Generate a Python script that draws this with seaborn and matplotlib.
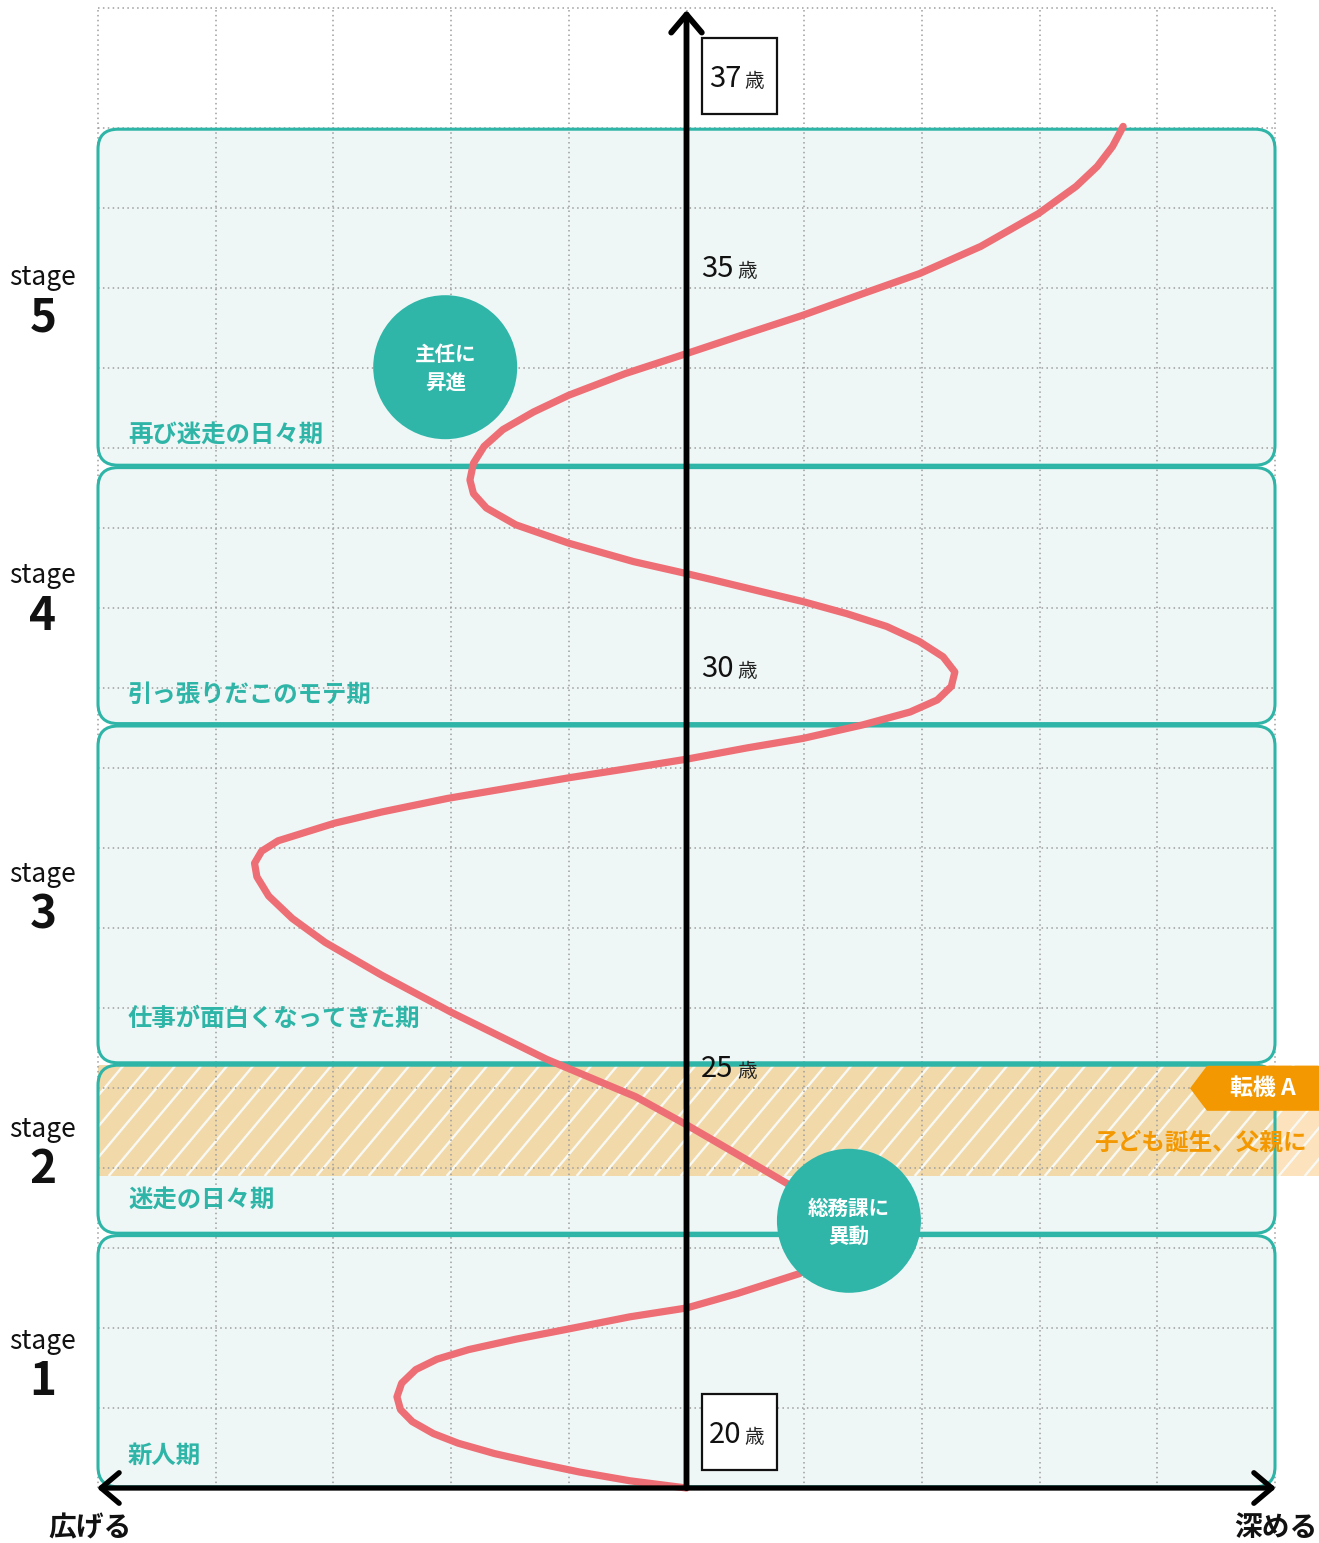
import numpy as np
import pandas as pd
import matplotlib
matplotlib.use("Agg")
import matplotlib.pyplot as plt
import seaborn as sns
from matplotlib.patches import FancyBboxPatch, Rectangle, Ellipse, Polygon
from matplotlib.collections import LineCollection

# ------------------------------------------------------------------ data
# career curve: x = 広げる(-) / 深める(+), y = age
curve_x = [0.00, -0.48, -0.91, -1.30, -1.63, -1.94, -2.15, -2.33, -2.43, -2.46,
           -2.42, -2.30, -2.12, -1.85, -1.45, -1.03, -0.48, 0.00, 0.43, 0.96,
           1.18, 1.29, 1.20, 0.85, 0.41, 0.00, -0.43, -1.19, -1.99, -2.59,
           -3.07, -3.35, -3.55, -3.65, -3.67, -3.61, -3.47, -3.23, -2.99, -2.59,
           -2.03, -1.51, -0.99, -0.51, 0.00, 0.51, 0.99, 1.50, 1.90, 2.13,
           2.25, 2.28, 2.18, 1.98, 1.70, 1.36, 0.99, 0.65, 0.23, 0.00,
           -0.45, -1.00, -1.45, -1.70, -1.81, -1.84, -1.81, -1.72, -1.56, -1.30,
           -1.00, -0.52, 0.00, 0.47, 0.99, 1.50, 1.98, 2.50, 2.99, 3.31,
           3.49, 3.62, 3.71]
curve_age = [20.00, 20.09, 20.20, 20.32, 20.43, 20.56, 20.68, 20.83, 20.98, 21.14,
             21.31, 21.48, 21.61, 21.73, 21.86, 21.98, 22.14, 22.25, 22.43, 22.68,
             22.91, 23.20, 23.51, 23.81, 24.19, 24.54, 24.89, 25.36, 25.94, 26.41,
             26.82, 27.12, 27.40, 27.64, 27.81, 27.96, 28.09, 28.20, 28.31, 28.45,
             28.62, 28.75, 28.88, 28.99, 29.11, 29.25, 29.37, 29.54, 29.70, 29.85,
             30.02, 30.20, 30.39, 30.58, 30.77, 30.93, 31.08, 31.20, 31.35, 31.43,
             31.58, 31.81, 32.04, 32.25, 32.43, 32.60, 32.81, 33.02, 33.23, 33.45,
             33.66, 33.93, 34.18, 34.41, 34.66, 34.93, 35.18, 35.52, 35.93, 36.27,
             36.52, 36.77, 37.02]

stage_numbers = ["1", "2", "3", "4", "5"]
stage_start = [20.00, 23.17, 25.30, 29.54, 32.77]
stage_end = [23.17, 25.30, 29.54, 32.77, 37.00]
stage_names = ["新人期", "迷走の日々期", "仕事が面白くなってきた期",
               "引っ張りだこのモテ期", "再び迷走の日々期"]

event_labels = ["総務課に\n異動", "主任に\n昇進"]
event_x = [1.38, -2.05]
event_age = [23.34, 34.01]

turning_label = "転機 A"
turning_note = "子ども誕生、父親に"
turning_start = 23.90
turning_end = 25.29

age_marks = ["25", "30", "35"]
age_boxed = ["20", "37"]
age_unit = "歳"
left_label = "広げる"
right_label = "深める"

x_min, x_max = -5, 5
age_min, age_max = 20, 38.5

# ------------------------------------------------------------------ layout
PX_X = 117.7   # pixels per x unit
PX_Y = 80.0    # pixels per year
def dx(p):
    return p / PX_X
def dy(p):
    return p / PX_Y

X0 = x_min - dx(98)
X1 = x_min + dx(1319 - 98)
Y0 = age_min - dy(55)
Y1 = age_min + dy(1488)

TEAL = "#2fb5a7"
BOX_FILL = "#eff7f6"
RED = "#ee6e75"
ORANGE = "#f39800"
GRID = "#9e9e9e"

sns.set_theme(style="white")
JP = ["Noto Sans CJK JP", "DejaVu Sans"]
NARROW = ["Liberation Sans Narrow", "DejaVu Sans Condensed", "Noto Sans CJK JP"]
plt.rcParams["font.family"] = JP

fig = plt.figure(figsize=(13.19, 15.43), dpi=100)
ax = fig.add_axes([0, 0, 1, 1])
ax.set_axis_off()

# stage boxes
gap = dy(1.2)
aspect = PX_X / PX_Y
for s, e in zip(stage_start, stage_end):
    for kw in (dict(facecolor=BOX_FILL, edgecolor="none", zorder=1),
               dict(facecolor="none", edgecolor=TEAL, linewidth=2.2, zorder=2.5)):
        ax.add_patch(FancyBboxPatch((x_min, s + gap), x_max - x_min, e - s - 2 * gap,
                                    boxstyle=f"round,pad=0,rounding_size={dx(20)}",
                                    mutation_aspect=aspect, **kw))

# turning-point band with hatch
band_h = turning_end - turning_start
ax.add_patch(Rectangle((x_min, turning_start), x_max - x_min, band_h,
                       facecolor="#f1d9aa", edgecolor="none", zorder=1.5))
ax.add_patch(Rectangle((x_max, turning_start), X1 - x_max + 0.1, band_h,
                       facecolor="#fce2bd", edgecolor="none", zorder=1.5))
clip_rect = Rectangle((x_min, turning_start), X1 - x_min + 0.1, band_h,
                      transform=ax.transData)
slope = np.tan(np.radians(50)) * PX_X / PX_Y
run = band_h / slope
step = dx(26)
segs = [[(x0, turning_start), (x0 + run, turning_end)]
        for x0 in np.arange(x_min - run, X1 + step, step)]
lc = LineCollection(segs, colors="#f9f9f4", linewidths=1.7, zorder=1.6)
ax.add_collection(lc)
lc.set_clip_path(clip_rect)

# dotted grid
dots = (0, (1, 2.2))
ax.hlines(np.arange(age_min + 1, 38), x_min, x_max, colors=GRID,
          linestyles=[dots], linewidth=1.1, zorder=2)
ax.hlines([age_max], x_min, x_max, colors=GRID, linestyles=[dots], linewidth=1.1, zorder=2)
ax.vlines(np.arange(x_min, x_max + 1), age_min, age_max, colors=GRID,
          linestyles=[dots], linewidth=1.1, zorder=2)

# curve
curve = pd.DataFrame({"x": curve_x, "age": curve_age})
sns.lineplot(data=curve, x="x", y="age", sort=False, estimator=None, ax=ax,
             color=RED, linewidth=5.2, zorder=3,
             solid_capstyle="round", solid_joinstyle="round")

# axes arrows
ax.annotate("", xy=(0, age_min + dy(1478)), xytext=(0, age_min),
            arrowprops=dict(arrowstyle="->,head_length=1.3,head_width=1.1",
                            lw=4.2, color="black", shrinkA=0, shrinkB=0,
                            mutation_scale=10), zorder=4)
ax.annotate("", xy=(x_min - dx(1), age_min), xytext=(x_max + dx(1), age_min),
            arrowprops=dict(arrowstyle="<->,head_length=1.3,head_width=1.1",
                            lw=3.8, color="black", shrinkA=0, shrinkB=0,
                            mutation_scale=10), zorder=4)

# event circles
for lab, ex, ey in zip(event_labels, event_x, event_age):
    ax.add_patch(Ellipse((ex, ey), 2 * dx(72), 2 * dy(72), facecolor="#2fb6a9",
                         edgecolor="none", zorder=5))
    ax.text(ex, ey - dy(1.5), lab, color="white", fontsize=14.8, fontweight="bold",
            ha="center", va="center", linespacing=1.45, zorder=6)

# age labels
for a in age_marks:
    base = float(a) + dy(11)
    t = ax.text(dx(14.5), base, a, fontsize=21, family=NARROW, color="#111",
                ha="left", va="baseline", zorder=6)
    ax.annotate(age_unit, xy=(1, base), xycoords=(t, "data"), xytext=(2.5, 0),
                textcoords="offset points", fontsize=14, color="#222",
                ha="left", va="baseline", zorder=6)
for a, bottom in zip(age_boxed, [age_min + dy(18), 37 + dy(14)]):
    ax.add_patch(Rectangle((dx(15.5), bottom), dx(75), dy(76), facecolor="white",
                           edgecolor="#111", linewidth=1.6, zorder=6))
    cx = dx(15.5) + dx(37.5)
    ax.text(cx + dx(2), bottom + dy(27), a, fontsize=21, family=NARROW, color="#111",
            ha="right", va="baseline", zorder=7)
    ax.text(cx + dx(5), bottom + dy(27), age_unit, fontsize=14, color="#222",
            ha="left", va="baseline", zorder=7)

# stage labels on the left and stage names
name_offsets = [dy(32), dy(35), dy(45), dy(30), dy(32)]
for num, s, e, nm, off in zip(stage_numbers, stage_start, stage_end, stage_names, name_offsets):
    mid = (s + e) / 2
    ax.text(x_min - dx(55), mid + dy(20), "stage", fontsize=19, family=NARROW,
            color="#111", ha="center", va="center", zorder=6)
    ax.text(x_min - dx(55), mid - dy(21), num, fontsize=33, family=NARROW,
            fontweight="bold", color="#111", ha="center", va="center", zorder=6)
    ax.text(x_min + dx(30), s + off, nm, fontsize=17.6, fontweight="bold",
            color=TEAL, ha="left", va="center", zorder=6)

# turning point tag
tag_h = dy(45)
tip_x = dx(1190 - 686.5)
shoulder_x = dx(1207 - 686.5)
tag_top = turning_end - dy(1)
ax.add_patch(Polygon([(tip_x, tag_top - tag_h / 2), (shoulder_x, tag_top),
                      (X1 + 0.1, tag_top), (X1 + 0.1, tag_top - tag_h),
                      (shoulder_x, tag_top - tag_h)], closed=True,
                     facecolor=ORANGE, edgecolor="none", zorder=6))
ax.text((shoulder_x + X1) / 2, tag_top - tag_h / 2, turning_label, color="white",
        fontsize=16.5, fontweight="bold", ha="center", va="center", zorder=7)
ax.text(dx(1307 - 686.5), age_min + dy(1488 - 1143), turning_note, color=ORANGE,
        fontsize=17, fontweight="bold", ha="right", va="center", zorder=7)

# axis end labels
ax.text(x_min - dx(8), age_min - dy(40), left_label, fontsize=20, fontweight="bold",
        color="#111", ha="center", va="center", zorder=6)
ax.text(x_max + dx(1), age_min - dy(40), right_label, fontsize=20, fontweight="bold",
        color="#111", ha="center", va="center", zorder=6)

ax.set_xlim(X0, X1)
ax.set_ylim(Y0, Y1)
fig.savefig("out.png", dpi=100, facecolor="white")
